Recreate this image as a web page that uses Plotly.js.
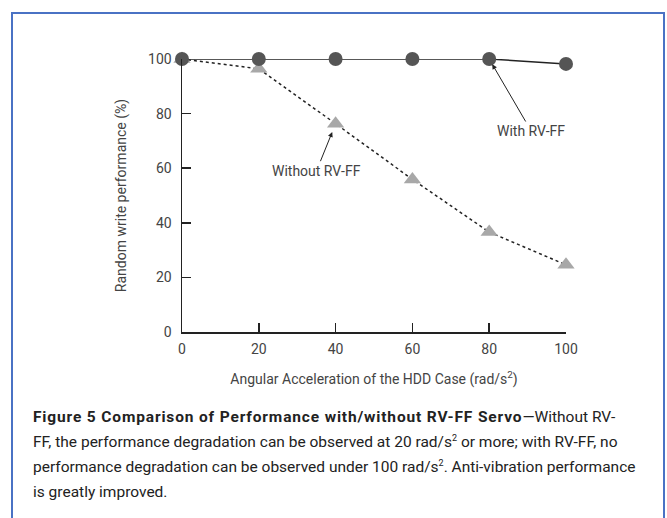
<!DOCTYPE html>
<html><head><meta charset="utf-8">
<script src="https://cdn.plot.ly/plotly-3.0.1.min.js"></script>
<style>
body{margin:0;background:#fff;}
#wrap{position:relative;width:667px;height:518px;overflow:hidden;}
#frame{position:absolute;left:11px;top:12px;width:650px;height:520px;border:2px solid #4a72c4;border-bottom:none;}
#chart{position:absolute;left:0;top:0;width:667px;height:400px;}
#cap{position:absolute;left:33px;top:405px;white-space:nowrap;font-family:"Roboto","Liberation Sans",sans-serif;font-size:15.5px;line-height:25px;color:#222;}
#cap b{letter-spacing:0.85px;}
#cap sup{font-size:9px;line-height:0;}
</style></head>
<body><div id="wrap"><div id="frame"></div><div id="chart"></div>
<div id="cap"><b>Figure 5 Comparison of Performance with/without RV-FF Servo</b>—Without RV-<br>FF, the performance degradation can be observed at 20 rad/s<sup>2</sup> or more; with RV-FF, no<br>performance degradation can be observed under 100 rad/s<sup>2</sup>. Anti-vibration performance<br>is greatly improved.</div>
</div>
<script>
const accel = [0, 20, 40, 60, 80, 100];
const withRVFF = [100, 100, 100, 100, 100, 98.2];
const withoutRVFF = [100, 96.4, 76.3, 55.9, 36.6, 24.6];
const xTicks = [0, 20, 40, 60, 80, 100];
const yTicks = [0, 20, 40, 60, 80, 100];
const font = "Roboto, Liberation Sans, sans-serif";

const traces = [
  {x: accel, y: withoutRVFF, mode: 'lines+markers', cliponaxis: false,
   line: {color: '#222', width: 1.5, dash: 'dot'},
   marker: {symbol: 'triangle-up', size: 15, color: '#a8a8a8'}},
  {x: accel, y: withRVFF, mode: 'lines+markers', cliponaxis: false,
   line: {color: '#222', width: 1.5},
   marker: {symbol: 'circle', size: 14, color: '#555555'}}
];
const layout = {
  width: 667, height: 400,
  margin: {l: 182, r: 101, t: 59, b: 68},
  showlegend: false,
  paper_bgcolor: 'rgba(0,0,0,0)', plot_bgcolor: 'rgba(0,0,0,0)',
  font: {family: font, size: 14, color: '#444'},
  xaxis: {range: [0, 100], tickvals: xTicks, ticks: 'inside', ticklen: 9, tickwidth: 1.5, tickcolor: '#222',
          ticklabelstandoff: 4,
          showline: true, linecolor: '#222', linewidth: 1.5, showgrid: false, zeroline: false,
          title: {text: 'Angular Acceleration of the HDD Case (rad/s<sup>2</sup>)', font: {size: 14, color: '#444'}, standoff: 18}},
  yaxis: {range: [0, 100], tickvals: yTicks, ticks: 'inside', ticklen: 9, tickwidth: 1.5, tickcolor: '#222',
          ticklabelstandoff: 6,
          showline: true, linecolor: '#222', linewidth: 1.5, showgrid: false, zeroline: false,
          title: {text: 'Random write performance (%)', font: {size: 14, color: '#444'}, standoff: 18}},
  annotations: [
    {x: 80, y: 100, xref: 'x', yref: 'y', text: 'With RV-FF', showarrow: true, arrowhead: 2, arrowsize: 1, arrowwidth: 1,
     arrowcolor: '#222', ax: 42, ay: 72, standoff: 6, font: {size: 14, color: '#444'}},
    {x: 40, y: 76.3, xref: 'x', yref: 'y', text: 'Without RV-FF', showarrow: true, arrowhead: 2, arrowsize: 1, arrowwidth: 1,
     arrowcolor: '#222', ax: -19, ay: 47, standoff: 9, font: {size: 14, color: '#444'}}
  ]
};
Plotly.newPlot('chart', traces, layout, {displayModeBar: false, staticPlot: true});
</script></body></html>
